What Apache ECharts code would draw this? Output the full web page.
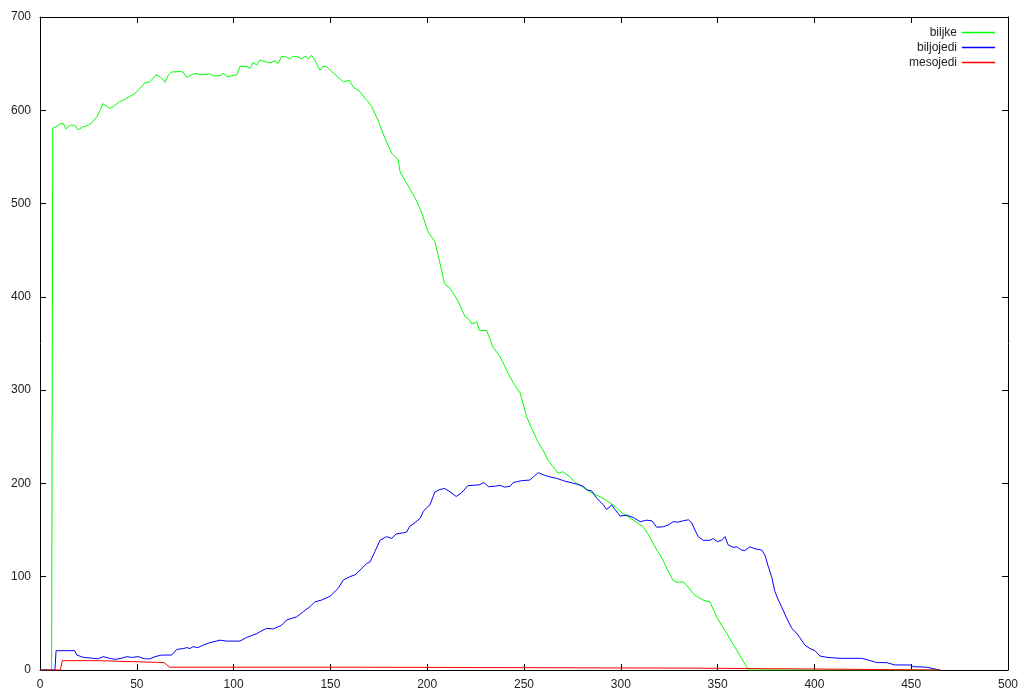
<!DOCTYPE html>
<html>
<head>
<meta charset="utf-8">
<script src="https://cdn.jsdelivr.net/npm/echarts@6/dist/echarts.min.js"></script>
<style>
html,body{margin:0;padding:0;background:#fff;}
#chart{width:1024px;height:694px;}
</style>
</head>
<body>
<div id="chart"></div>
<script>
// ---- data ----
const seriesNames = ['biljke', 'biljojedi', 'mesojedi'];
const xTicks = [0, 50, 100, 150, 200, 250, 300, 350, 400, 450, 500];
const yTicks = [0, 100, 200, 300, 400, 500, 600, 700];

const biljkeX = [0,6,6.6,8,10,12,13.5,15.5,18,19.6,22,25,27,29.4,31,32.5,34,36,38,41,44,46.5,49,51.7,54.2,56.8,59.9,62,64.6,66.3,68,72.3,74,75.8,78,80,83.5,87.8,89.5,93,94.7,96.7,99,101.6,103.3,106.8,108.5,110,112,113.6,116.2,118.8,121.4,123,124.8,127.4,129,130.8,133.4,135,136.9,138.6,140.3,142,144.6,146,148,150.7,154,156.7,159.8,161.8,165.3,167.9,169.6,171.3,174,176.5,179,181.7,183.5,185,186,188.5,191,194,197,200.4,202,204,206.5,209,211.8,214,216,219.5,222,223,225.6,227,230.7,234,237.6,240,242.8,245,248,251.4,254,257,260,262.4,265,267.6,270,273.8,276,279,284,287,290.8,296,301,306.3,311.5,314,316.6,319,321.8,324,327,329,332,334,337.3,340,342.5,346,349.5,352,354.7,357,360,362.5,365,366,465];
const biljkeY = [0,0,581,582,585,586,580,584,584,579,582,584,587,593,600,607,605,602,604,609,612,615,618,623.5,629.5,630.5,638,636,630,638,641,641.5,641,635,638,639.5,638,639,637,637,639.5,636,637,638,647,647,645,651,648.6,654,652,651,653,650,658,657,655,658,657,655,658,655,659,654,643,647,647,641.5,635.5,630.5,632,625,620,612.7,609,604,592,579,566,554,550,547,534,525,516,505,491,470,465,459,437,414,409,402,395,379,375,371,373,364,364,346,336,326,314,306,297,271,259,245,235,225,218,211,212.5,207,202,198,191,188,184,177,168,161,153.6,146,136,127,118,108,96,94,94.6,91,82,78,75,73,57,48,39.6,31,21,12,3.6,0,0];

const biljojediX = [0,7.7,8.3,18,19,22.4,27.5,30,32.7,36,38.7,42,44.8,47.3,50.8,54,56.8,59.4,62.8,68,70.6,74,75.8,77.5,79,81.5,84.4,87.8,93,96.4,103.3,106.8,112,113.6,117,120.5,124.8,127.4,132.6,136,139.5,142,145.5,149.8,154,156.7,160,162.7,165.3,168.7,170.5,173,175.6,179,181.7,184,187.7,189.4,191,193.7,196.3,198,199.7,201.4,204,206.6,209,211.8,215,217.8,221,227,229.3,231.6,235,237.6,240,242.8,244.5,248.8,253,254.8,257.4,259,261.7,264,266.9,270.3,273.8,277,280.6,282.4,285,287.6,291,292.7,295.3,297,299.6,303,306.5,310,313.4,316,318.6,322,324.5,327,329.7,332.3,334.9,336.6,338.3,340,342.6,346,347.8,349.8,352,353.8,355.5,358,359.9,362.4,364,366.7,369.3,372.8,374.5,376.2,377.9,379.6,381.4,383,385.7,388.3,390.9,393.4,395,397.7,400.3,402.9,406.3,413.2,424.4,427.8,432.2,437.3,441.6,449.4,451,458,460.6,463.2,465];
const biljojediY = [0,0,20.7,20.7,16,13.6,12.5,12,14.3,12.5,11.4,12.5,14.3,13.5,14.3,12,12,14.3,16,16,22,23,24,23,25,24,26.8,29.3,32,31,31,35,39,41,44.6,44,48,53.6,57,62.5,68,73,75,79,87.5,96.5,100,102,107,114,116,127,139,143,141,146,147,148,154,158,162.5,170,174,177,191,193.5,194.6,191,186,190,197.6,198.5,201,196.5,197,198,196,197,201,203,203.6,207,211.6,210,208,206.6,205.5,203,201,199.4,197,193,192,184,177,172,177,172,165,166,163.4,159,160.6,160,153,153.6,155.4,159,158.5,160,161,158,150,143,139,139,141,137.6,139,143,134,131.5,132,128.6,128,132,130,128.6,123,110.7,100,84,75,68,55.4,44.7,39.3,32,26.8,23,20.7,15,13.6,12.5,12.5,10.7,7.9,7.9,5.4,5.4,3.6,3,1.8,0.7,0];

const mesojediX = [0,10.5,11.5,30,31,64,67,160,161,337,338,404,405,465];
const mesojediY = [0,0,10,10,8,8,3,3,2,2,1,1,0,0];

const colors = ['#00ff00', '#0000ff', '#ff0000'];

function zip(xs, ys) { return xs.map((x, i) => [x, ys[i]]); }

const chart = echarts.init(document.getElementById('chart'));
const font = 'Liberation Sans, Arial, sans-serif';
const tickStyle = { show: true, inside: true, length: 6, lineStyle: { color: '#000', width: 1 } };
const lineStyle = { show: true, onZero: false, lineStyle: { color: '#000', width: 1 } };

chart.setOption({
  animation: false,
  backgroundColor: '#fff',
  grid: { left: 40, right: 16, top: 17, bottom: 24, containLabel: false },
  legend: {
    orient: 'vertical',
    right: 29,
    top: 25,
    padding: 0,
    align: 'right',
    icon: 'rect',
    itemWidth: 33,
    itemHeight: 1.5,
    itemGap: 0,
    data: seriesNames,
    textStyle: { fontFamily: font, fontSize: 12, color: '#222', lineHeight: 15 }
  },
  xAxis: [
    {
      type: 'value', min: 0, max: 500, interval: 50, position: 'bottom',
      axisLine: lineStyle, axisTick: tickStyle, splitLine: { show: false },
      axisLabel: { fontFamily: font, fontSize: 12, color: '#222', margin: 9,
        formatter: v => xTicks.includes(v) ? String(v) : '' }
    },
    {
      type: 'value', min: 0, max: 500, interval: 50, position: 'top',
      axisLine: lineStyle, axisTick: tickStyle, splitLine: { show: false },
      axisLabel: { show: false }
    }
  ],
  yAxis: [
    {
      type: 'value', min: 0, max: 700, interval: 100, position: 'left',
      axisLine: lineStyle, axisTick: tickStyle, splitLine: { show: false },
      axisLabel: { fontFamily: font, fontSize: 12, color: '#222', margin: 9,
        formatter: v => yTicks.includes(v) ? String(v) : '' }
    },
    {
      type: 'value', min: 0, max: 700, interval: 100, position: 'right',
      axisLine: lineStyle, axisTick: tickStyle, splitLine: { show: false },
      axisLabel: { show: false }
    }
  ],
  series: [
    { name: seriesNames[0], type: 'line', data: zip(biljkeX, biljkeY) },
    { name: seriesNames[1], type: 'line', data: zip(biljojediX, biljojediY) },
    { name: seriesNames[2], type: 'line', data: zip(mesojediX, mesojediY) }
  ].map((s, i) => Object.assign(s, {
    xAxisIndex: 0, yAxisIndex: 0, symbol: 'none', showSymbol: false,
    smooth: false, z: 2 + i,
    color: colors[i],
    itemStyle: { color: colors[i] },
    lineStyle: { color: colors[i], width: 1 },
    emphasis: { disabled: true }
  }))
});
</script>
</body>
</html>
